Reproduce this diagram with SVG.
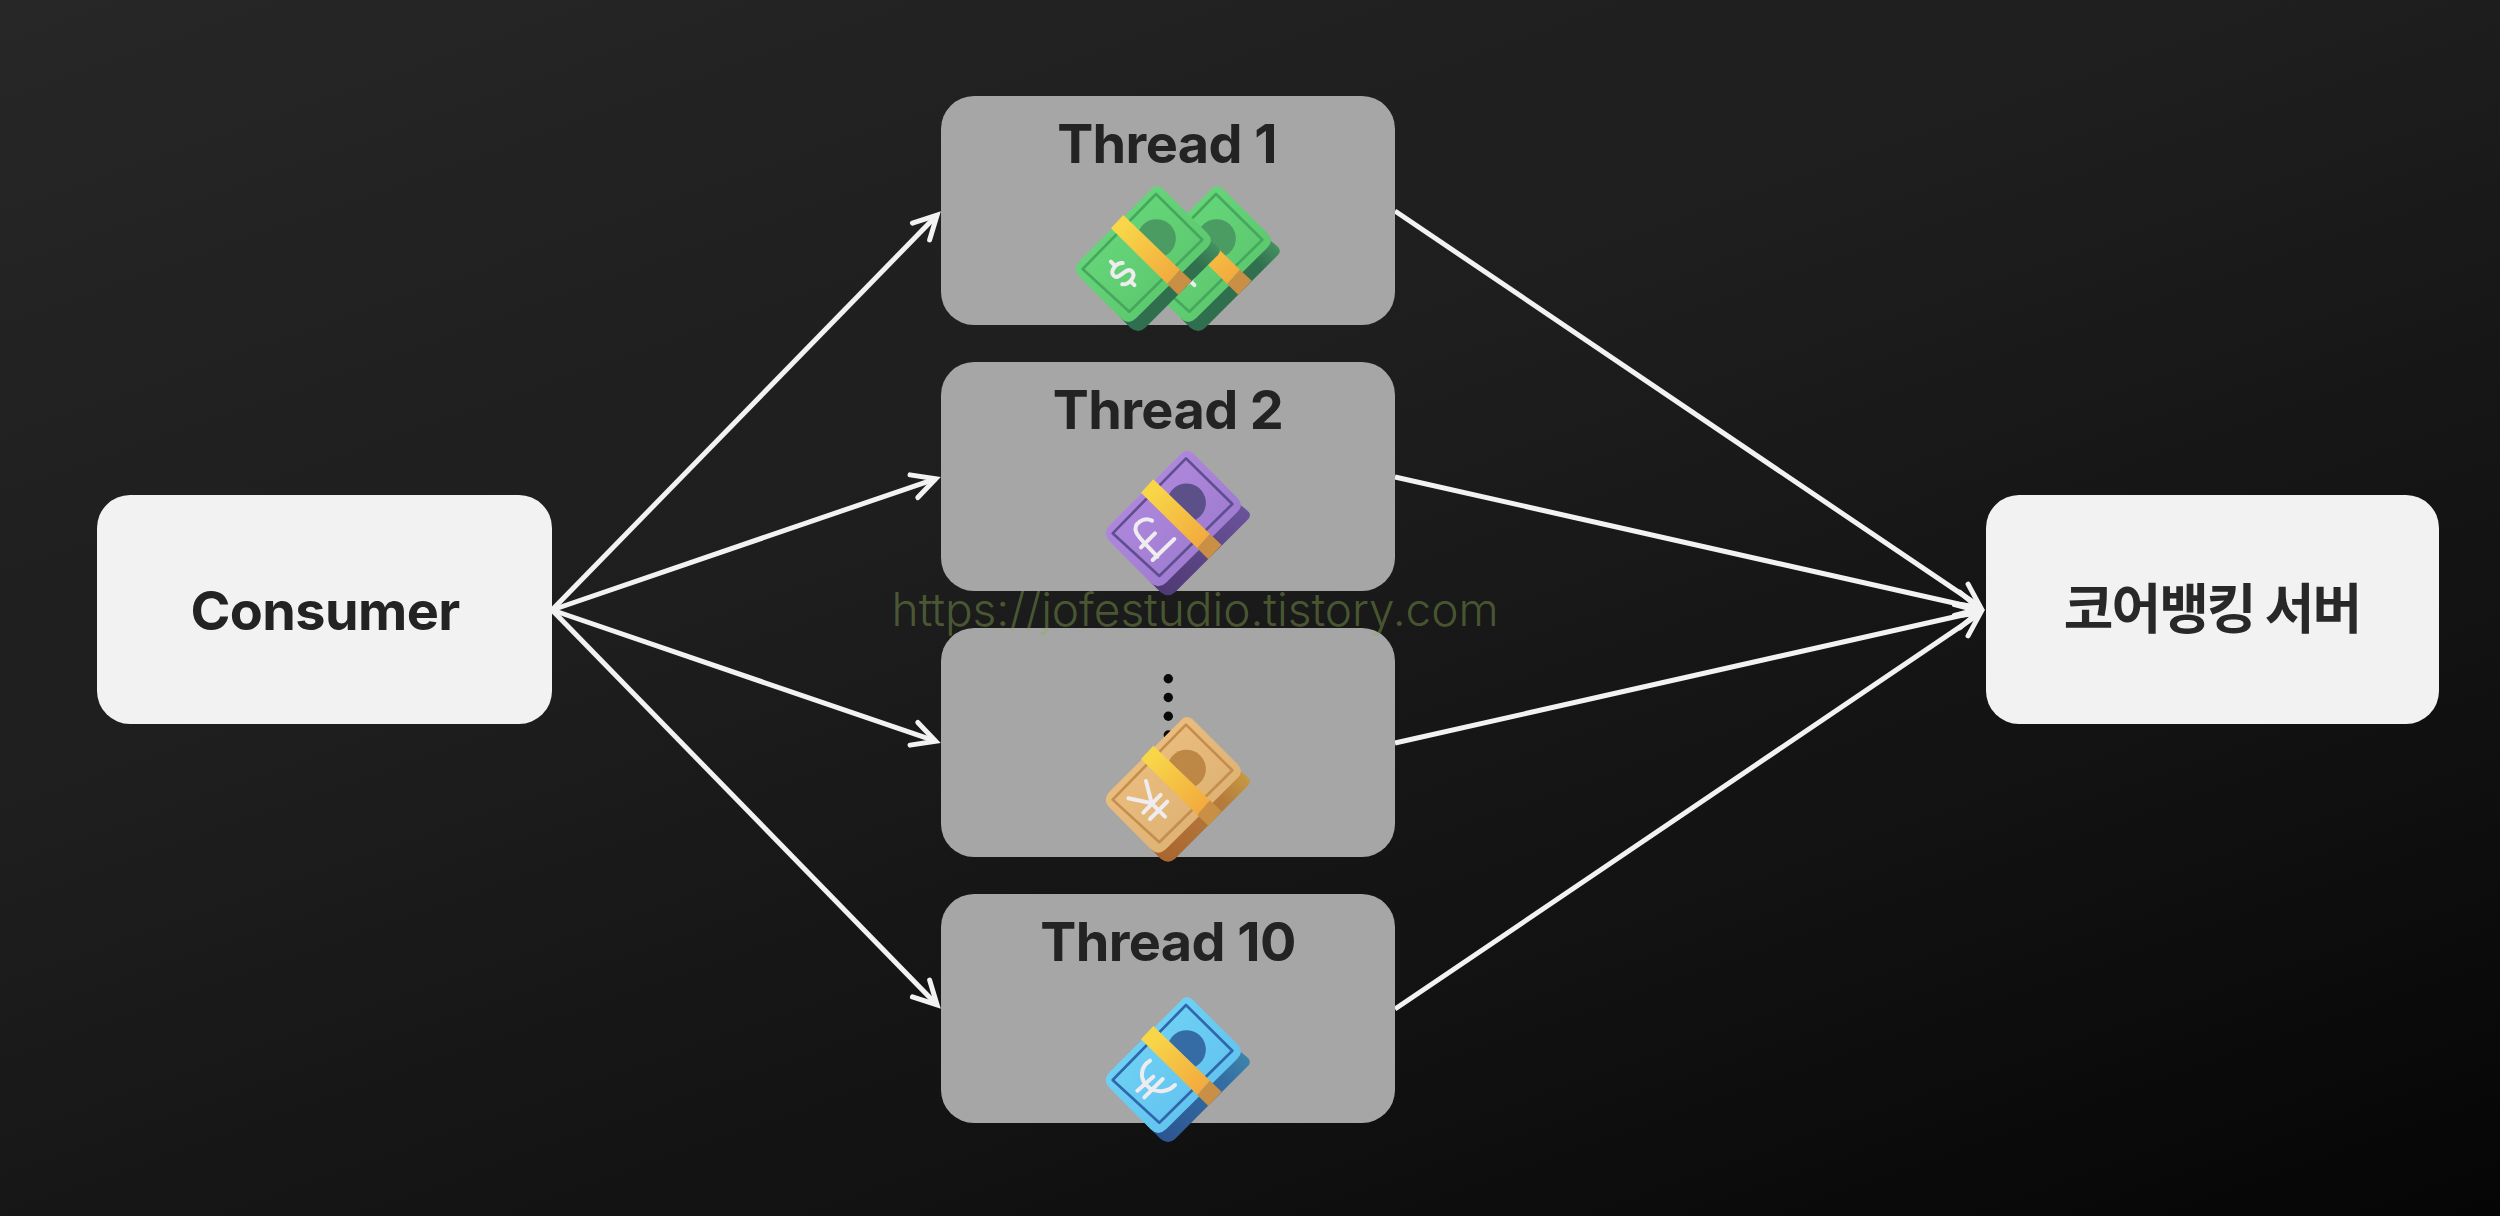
<svg xmlns="http://www.w3.org/2000/svg" width="2500" height="1216" viewBox="0 0 2500 1216">
<style>
.light{fill:#f2f2f2}
.grey{fill:#a6a6a6}
.label{font-family:"Inter","Liberation Sans",sans-serif;font-weight:700;font-size:54px;letter-spacing:-.6px;fill:#232323;text-anchor:middle}
.kr{font-family:"Noto Sans CJK KR",sans-serif;font-weight:700;font-size:54px;letter-spacing:-2px;fill:#282828;text-anchor:middle}
.wire{fill:none;stroke:#f2f2f2;stroke-width:5;marker-end:url(#arrow)}
.sym{fill:none;stroke:#efecef;stroke-width:12;stroke-linecap:round;stroke-linejoin:round}
.dot{fill:#0a0a0a}
.side{fill:var(--side)}
.face{fill:var(--face)}
.edge{fill:none;stroke:var(--edge);stroke-width:8;stroke-linejoin:round}
.win{fill:var(--win)}
.green{--side:url(#greenSide);--face:url(#greenFace);--edge:#45a85c;--win:#4a9c62}
.purple{--side:url(#purpleSide);--face:url(#purpleFace);--edge:#5f4e90;--win:#5c5088}
.tan{--side:url(#tanSide);--face:url(#tanFace);--edge:#c48e4e;--win:#bd8846}
.blue{--side:url(#blueSide);--face:url(#blueFace);--edge:#2f68aa;--win:#366ca6}
</style>
<defs>
<linearGradient id="bg" gradientUnits="userSpaceOnUse" x1="0" y1="0" x2="657" y2="1865">
<stop offset="0" stop-color="#272727"/><stop offset=".25" stop-color="#202020"/><stop offset=".4" stop-color="#1e1e1e"/><stop offset=".62" stop-color="#151515"/><stop offset=".72" stop-color="#121212"/><stop offset="1" stop-color="#050505"/>
</linearGradient>
<linearGradient id="greenSide" x1="0" y1="1" x2="1" y2="0"><stop offset="0" stop-color="#2f6e4e"/><stop offset=".75" stop-color="#30704e"/><stop offset="1" stop-color="#4a9a66"/></linearGradient>
<linearGradient id="greenFace" x1="0" y1="0" x2="1" y2="1"><stop offset="0" stop-color="#6bdc80"/><stop offset="1" stop-color="#58c268"/></linearGradient>
<linearGradient id="purpleSide" x1="0" y1="1" x2="1" y2="0"><stop offset="0" stop-color="#4c3870"/><stop offset="1" stop-color="#6c549c"/></linearGradient>
<linearGradient id="purpleFace" x1="0" y1="0" x2="1" y2="1"><stop offset="0" stop-color="#b88ee4"/><stop offset="1" stop-color="#9676c8"/></linearGradient>
<linearGradient id="tanSide" x1="0" y1="1" x2="1" y2="0"><stop offset="0" stop-color="#a8632e"/><stop offset=".7" stop-color="#b57c3c"/><stop offset="1" stop-color="#c9a044"/></linearGradient>
<linearGradient id="tanFace" x1="0" y1="0" x2="1" y2="1"><stop offset="0" stop-color="#f0c384"/><stop offset="1" stop-color="#d9ad6e"/></linearGradient>
<linearGradient id="blueSide" x1="0" y1="1" x2="1" y2="0"><stop offset="0" stop-color="#2b5290"/><stop offset=".7" stop-color="#336ea2"/><stop offset="1" stop-color="#4088ac"/></linearGradient>
<linearGradient id="blueFace" x1="0" y1="0" x2="1" y2="1"><stop offset="0" stop-color="#78d8f8"/><stop offset="1" stop-color="#5abcec"/></linearGradient>
<linearGradient id="band" gradientUnits="userSpaceOnUse" x1="345" y1="390" x2="500" y2="550"><stop offset="0" stop-color="#f8d648"/><stop offset="1" stop-color="#f2a83e"/></linearGradient>
<marker id="arrow" markerUnits="userSpaceOnUse" viewBox="-40 -20 50 40" refX="0" refY="0" markerWidth="50" markerHeight="40" orient="auto" overflow="visible">
<path d="M-23 -12L0 0L-23 12" fill="none" stroke="#f2f2f2" stroke-width="5" stroke-linecap="round" stroke-linejoin="miter" stroke-miterlimit="6"/>
</marker>
<g id="bill">
<path class="side" d="M595 430L620 450Q640 465 620 482L405 697Q385 715 362 697L330 665Z"/>
<path class="face" d="M420 285Q440 260 462 283L592 413Q614 435 592 456L378 668Q355 690 332 668L210 545Q185 520 210 495Z"/>
<path class="edge" d="M438 295L577 432L358 648L218 520Z"/>
<path class="win" d="M387 404A58 58 0 1 1 466 480Z"/>
</g>
<g id="strap">
<path d="M340 358L303 398L472 565L510 522Z" fill="url(#band)"/>
<path d="M510 522L545 555L505 598L472 565Z" fill="#c98f45"/>
</g>
<g id="dollar"><g class="sym" transform="translate(338,533) rotate(-45)"><path d="M22 -22C10 -36 -24 -34 -24 -13C-24 8 24 -8 24 15C24 36 -12 38 -24 22"/><path d="M0 -50V-35M0 35V50"/></g></g>
</defs>

<rect width="2500" height="1216" fill="url(#bg)"/>

<g id="connectors">
<path class="wire" d="M552 610L937.1 215"/>
<path class="wire" d="M552 610L935.7 478.8"/>
<path class="wire" d="M552 610L935.7 741.2"/>
<path class="wire" d="M552 610L937.1 1005"/>
<path class="wire" d="M1395 211L1980.4 606.9"/>
<path class="wire" d="M1395 477L1979.5 608.8"/>
<path class="wire" d="M1395 743L1979.5 611.2"/>
<path class="wire" d="M1395 1009L1980.4 613.1"/>
</g>

<g id="consumer">
<rect class="light" x="97" y="495" width="455" height="229" rx="33"/>
<text class="label" x="325" y="630">Consumer</text>
</g>

<g id="thread-1">
<rect class="grey" x="941" y="96" width="454" height="229" rx="33"/>
<text class="label" x="1167" y="162.5">Thread 1</text>
<g class="green" transform="translate(1070,95.7) scale(.33333)">
<use href="#bill"/><use href="#dollar"/><use href="#strap"/>
</g>
<g class="green" transform="translate(1010,95.7) scale(.33333)">
<use href="#bill"/><use href="#dollar"/><use href="#strap"/>
</g>
</g>

<g id="thread-2">
<rect class="grey" x="941" y="362" width="454" height="229" rx="33"/>
<text class="label" x="1168" y="429">Thread 2</text>
<g class="purple" transform="translate(1040,360) scale(.33333)">
<use href="#bill"/>
<path class="sym" d="M336 482C310 470 280 490 288 515C292 530 320 555 352 590M338 600L403 537M303 562L345 520"/>
<use href="#strap"/>
</g>
</g>

<g id="thread-ellipsis">
<rect class="grey" x="941" y="628" width="454" height="229" rx="33"/>
<circle class="dot" cx="1168.3" cy="678.7" r="4.7"/>
<circle class="dot" cx="1168.3" cy="697.5" r="4.7"/>
<circle class="dot" cx="1168.3" cy="716.3" r="4.7"/>
<circle class="dot" cx="1168.3" cy="735" r="4.7"/>
<g class="tan" transform="translate(1040,626.3) scale(.33333)">
<use href="#bill"/>
<path class="sym" d="M318 464L335 531L265 516M335 531L375 571M310 559L362 506M330 578L382 526"/>
<use href="#strap"/>
</g>
</g>

<g id="thread-10">
<rect class="grey" x="941" y="894" width="454" height="229" rx="33"/>
<text class="label" x="1168" y="960.7">Thread 10</text>
<g class="blue" transform="translate(1040,906.7) scale(.33333)">
<use href="#bill"/>
<path class="sym" d="M330 462C300 480 295 520 330 545C355 560 385 555 405 535M292 552L340 510M313 572L368 517"/>
<use href="#strap"/>
</g>
</g>

<g id="core-banking-server">
<rect class="light" x="1986" y="495" width="453" height="229" rx="33"/>
<text class="kr" x="2212" y="629">코어뱅킹 서버</text>
</g>

<text id="watermark" x="891.6" y="626" textLength="607" font-family="Inter, 'Liberation Sans', sans-serif" font-weight="300" font-size="46" fill="#8cae56" fill-opacity=".43">https://jofestudio.tistory.com</text>
</svg>
